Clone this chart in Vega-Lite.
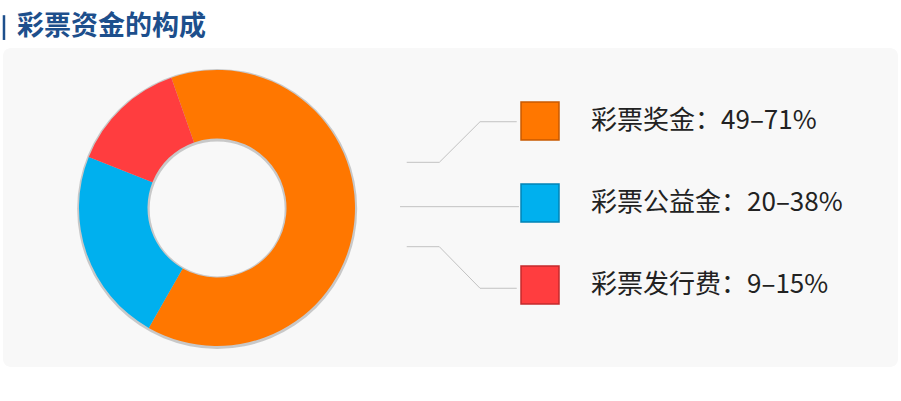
{
  "$schema": "https://vega.github.io/schema/vega-lite/v6.json",
  "width": 895,
  "height": 319,
  "autosize": "none",
  "padding": {"left": 3, "top": 48, "right": 3, "bottom": 34},
  "background": "white",
  "config": {
    "view": {"fill": "#f8f8f8", "stroke": null, "cornerRadius": 8},
    "font": "Noto Sans CJK SC",
    "axis": {"disable": true}
  },
  "datasets": {
    "parts": [
      {"category": "彩票奖金", "label": "彩票奖金：49–71%", "share": 63.6, "rank": 1},
      {"category": "彩票公益金", "label": "彩票公益金：20–38%", "share": 22.8, "rank": 2},
      {"category": "彩票发行费", "label": "彩票发行费：9–15%", "share": 13.6, "rank": 3}
    ],
    "links": [
      {"category": "彩票奖金", "step": 1, "pos": 45.11, "level": 1.504},
      {"category": "彩票奖金", "step": 2, "pos": 48.75, "level": 1.504},
      {"category": "彩票奖金", "step": 3, "pos": 53.3, "level": 1.009},
      {"category": "彩票奖金", "step": 4, "pos": 57.4, "level": 1.009},
      {"category": "彩票公益金", "step": 1, "pos": 44.36, "level": 2.045},
      {"category": "彩票公益金", "step": 2, "pos": 57.65, "level": 2.045},
      {"category": "彩票发行费", "step": 1, "pos": 45.11, "level": 2.533},
      {"category": "彩票发行费", "step": 2, "pos": 48.75, "level": 2.533},
      {"category": "彩票发行费", "step": 3, "pos": 53.3, "level": 3.04},
      {"category": "彩票发行费", "step": 4, "pos": 57.4, "level": 3.04}
    ]
  },
  "layer": [
    {
      "data": {"values": [{}]},
      "mark": {"type": "rule", "color": "#1d4f8c", "strokeWidth": 2.5},
      "encoding": {
        "x": {"datum": 0.11, "type": "quantitative", "scale": {"domain": [0, 100], "nice": false, "zero": false}, "axis": null},
        "y": {"datum": -0.29, "type": "quantitative", "scale": {"domain": [0.11, 4.0], "reverse": true, "nice": false, "zero": false}, "axis": null},
        "y2": {"datum": 0.012}
      }
    },
    {
      "data": {"values": [{}]},
      "mark": {"type": "text", "align": "left", "baseline": "middle", "fontSize": 27, "fontWeight": "bold", "color": "#1d4f8c"},
      "encoding": {
        "x": {"datum": 1.56, "type": "quantitative", "scale": {"domain": [0, 100], "nice": false, "zero": false}, "axis": null},
        "y": {"datum": -0.152, "type": "quantitative", "scale": {"domain": [0.11, 4.0], "reverse": true, "nice": false, "zero": false}, "axis": null},
        "text": {"value": "彩票资金的构成"}
      }
    },
    {
      "data": {"values": [{}]},
      "mark": {"type": "arc", "outerRadius": 140, "innerRadius": 67.5, "theta": 0, "theta2": 6.2832, "color": "#6f6f6f", "opacity": 0.35},
      "encoding": {
        "x": {"datum": 23.93, "type": "quantitative", "scale": {"domain": [0, 100], "nice": false, "zero": false}, "axis": null},
        "y": {"datum": 2.072, "type": "quantitative", "scale": {"domain": [0.11, 4.0], "reverse": true, "nice": false, "zero": false}, "axis": null}
      }
    },
    {
      "data": {"name": "parts"},
      "mark": {"type": "arc", "outerRadius": 138, "innerRadius": 69.5},
      "encoding": {
        "x": {"datum": 23.91, "type": "quantitative", "scale": {"domain": [0, 100], "nice": false, "zero": false}, "axis": null},
        "y": {"datum": 2.061, "type": "quantitative", "scale": {"domain": [0.11, 4.0], "reverse": true, "nice": false, "zero": false}, "axis": null},
        "theta": {"field": "share", "type": "quantitative", "stack": true, "scale": {"range": [5.946, 12.229]}},
        "order": {"field": "rank", "type": "quantitative"},
        "color": {
          "field": "category", "type": "nominal", "legend": null,
          "scale": {"domain": ["彩票奖金", "彩票公益金", "彩票发行费"], "range": ["#ff7700", "#00b0ee", "#ff3d3f"]}
        }
      }
    },
    {
      "data": {"name": "links"},
      "mark": {"type": "line", "color": "#c2c2c2", "strokeWidth": 1},
      "encoding": {
        "x": {"field": "pos", "type": "quantitative", "scale": {"domain": [0, 100], "nice": false, "zero": false}, "axis": null},
        "y": {"field": "level", "type": "quantitative", "scale": {"domain": [0.11, 4.0], "reverse": true, "nice": false, "zero": false}, "axis": null},
        "detail": {"field": "category", "type": "nominal"},
        "order": {"field": "step", "type": "quantitative"}
      }
    },
    {
      "data": {"name": "parts"},
      "mark": {"type": "point", "shape": "square", "filled": true, "size": 1444, "opacity": 1, "strokeWidth": 1.5},
      "encoding": {
        "x": {"datum": 60.0, "type": "quantitative", "scale": {"domain": [0, 100], "nice": false, "zero": false}, "axis": null},
        "y": {"field": "rank", "type": "quantitative", "scale": {"domain": [0.11, 4.0], "reverse": true, "nice": false, "zero": false}, "axis": null},
        "color": {
          "field": "category", "type": "nominal", "legend": null,
          "scale": {"domain": ["彩票奖金", "彩票公益金", "彩票发行费"], "range": ["#ff7700", "#00b0ee", "#ff3d3f"]}
        },
        "stroke": {
          "field": "category", "type": "nominal", "legend": null,
          "scale": {"domain": ["彩票奖金", "彩票公益金", "彩票发行费"], "range": ["#c85a00", "#0083b5", "#c42a2c"]}
        }
      }
    },
    {
      "data": {"name": "parts"},
      "mark": {"type": "text", "align": "left", "baseline": "middle", "fontSize": 26, "color": "#222222"},
      "encoding": {
        "x": {"datum": 65.7, "type": "quantitative", "scale": {"domain": [0, 100], "nice": false, "zero": false}, "axis": null},
        "y": {"field": "rank", "type": "quantitative", "scale": {"domain": [0.11, 4.0], "reverse": true, "nice": false, "zero": false}, "axis": null},
        "text": {"field": "label", "type": "nominal"}
      }
    }
  ]
}
